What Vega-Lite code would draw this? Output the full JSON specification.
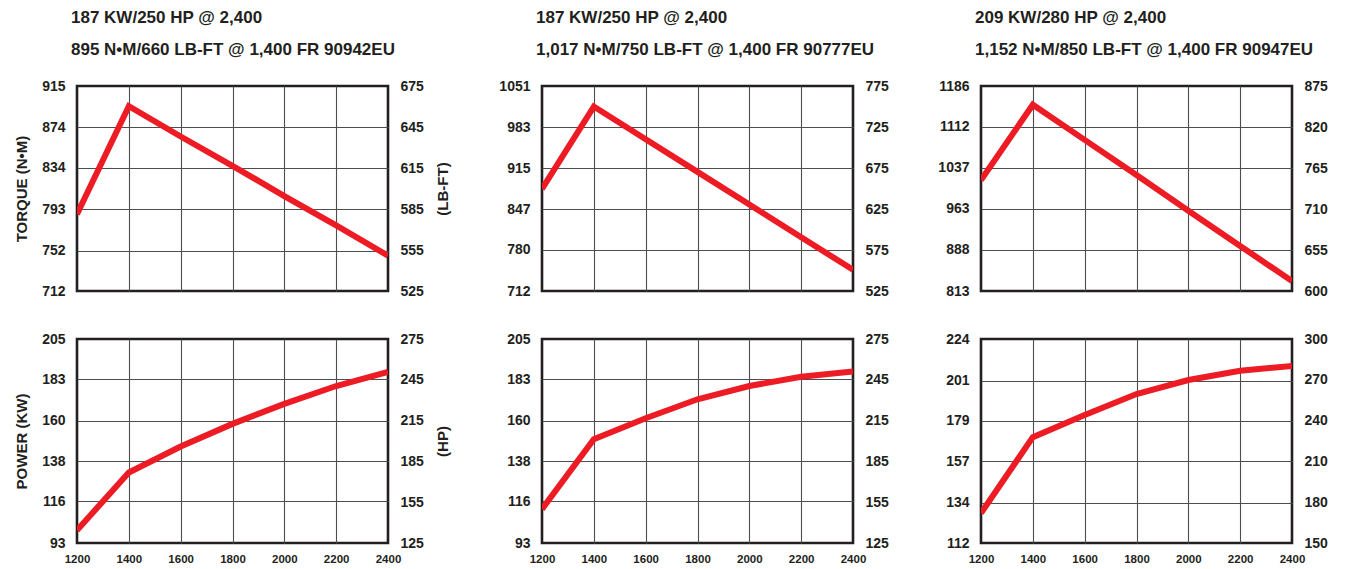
{
  "$schema": "https://vega.github.io/schema/vega-lite/v6.json",
  "background": "white",
  "padding": {"left": 13, "top": 7, "right": 5, "bottom": 2},
  "config": {
    "view": {"stroke": "#231f20", "strokeWidth": 2.6},
    "axis": {
      "ticks": false, "domain": false,
      "gridColor": "#4d4d4f", "gridWidth": 1.1,
      "labelFont": "Liberation Sans", "labelFontWeight": "bold", "labelColor": "#231f20",
      "labelFontSize": 14, "labelPadding": 12, "format": "d",
      "titleFont": "Liberation Sans", "titleFontSize": 15,
      "titleFontWeight": "bold", "titleColor": "#231f20", "titlePadding": 12
    },
    "axisX": {"labelFontSize": 11.5, "labelPadding": 10, "labelFlush": false, "labelOverlap": false},
    "title": {
      "font": "Liberation Sans", "fontSize": 17, "fontWeight": "bold",
      "color": "#231f20", "anchor": "start", "frame": "group", "lineHeight": 32, "dx": -6, "offset": 20
    }
  },
  "datasets": {
    "t1": [
      {"rpm": 1200, "nm": 788, "lbft": 581}, {"rpm": 1400, "nm": 895, "lbft": 660}, {"rpm": 1600, "nm": 865, "lbft": 638},
      {"rpm": 1800, "nm": 836, "lbft": 617}, {"rpm": 2000, "nm": 806, "lbft": 594}, {"rpm": 2200, "nm": 777, "lbft": 573},
      {"rpm": 2400, "nm": 747, "lbft": 551}
    ],
    "p1": [
      {"rpm": 1200, "kw": 100, "hp": 134}, {"rpm": 1400, "kw": 131.7, "hp": 176.6}, {"rpm": 1600, "kw": 146, "hp": 195.8},
      {"rpm": 1800, "kw": 158.4, "hp": 212.4}, {"rpm": 2000, "kw": 169.4, "hp": 227.2}, {"rpm": 2200, "kw": 179.2, "hp": 240.3},
      {"rpm": 2400, "kw": 187, "hp": 250.8}
    ],
    "t2": [
      {"rpm": 1200, "nm": 881, "lbft": 650}, {"rpm": 1400, "nm": 1017, "lbft": 750}, {"rpm": 1600, "nm": 963, "lbft": 710},
      {"rpm": 1800, "nm": 909, "lbft": 670}, {"rpm": 2000, "nm": 855, "lbft": 631}, {"rpm": 2200, "nm": 801, "lbft": 591},
      {"rpm": 2400, "nm": 747, "lbft": 551}
    ],
    "p2": [
      {"rpm": 1200, "kw": 111.6, "hp": 149.7}, {"rpm": 1400, "kw": 150, "hp": 201.2}, {"rpm": 1600, "kw": 161.5, "hp": 216.6},
      {"rpm": 1800, "kw": 171.9, "hp": 230.5}, {"rpm": 2000, "kw": 179.2, "hp": 240.3}, {"rpm": 2200, "kw": 184.3, "hp": 247.1},
      {"rpm": 2400, "kw": 187.1, "hp": 250.9}
    ],
    "t3": [
      {"rpm": 1200, "nm": 1015, "lbft": 749}, {"rpm": 1400, "nm": 1152, "lbft": 850}, {"rpm": 1600, "nm": 1088, "lbft": 802},
      {"rpm": 1800, "nm": 1024, "lbft": 755}, {"rpm": 2000, "nm": 959, "lbft": 707}, {"rpm": 2200, "nm": 895, "lbft": 660},
      {"rpm": 2400, "nm": 831, "lbft": 613}
    ],
    "p3": [
      {"rpm": 1200, "kw": 128.4, "hp": 172.2}, {"rpm": 1400, "kw": 170.1, "hp": 228.1}, {"rpm": 1600, "kw": 182.3, "hp": 244.5},
      {"rpm": 1800, "kw": 193.8, "hp": 259.9}, {"rpm": 2000, "kw": 201.5, "hp": 270.2}, {"rpm": 2200, "kw": 206.6, "hp": 277.1},
      {"rpm": 2400, "kw": 209.2, "hp": 280.5}
    ]
  },
  "spacing": 45,
  "hconcat": [
    {
      "vconcat": [
        {
          "width": 311, "height": 205,
          "title": {"text": ["187 KW/250 HP @ 2,400", "895 N•M/660 LB-FT @ 1,400  FR 90942EU"]},
          "data": {"name": "t1"},
          "resolve": {"scale": {"y": "independent"}},
          "layer": [
            {
              "mark": {"type": "line", "color": "#ed1c24", "strokeWidth": 6, "clip": true},
              "encoding": {
                "x": {"field": "rpm", "type": "quantitative", "scale": {"domain": [1200, 2400]},
                  "axis": {"values": [1200, 1400, 1600, 1800, 2000, 2200, 2400], "labels": false, "title": null,
                    "gridColor": {"condition": {"test": "datum.value <= 1200 || datum.value >= 2400", "value": "transparent"}, "value": "#4d4d4f"}}},
                "y": {"field": "nm", "type": "quantitative", "scale": {"domain": [712, 915]},
                  "axis": {"values": [712, 752, 793, 834, 874, 915], "title": "TORQUE (N•M)",
                    "gridColor": {"condition": {"test": "datum.value <= 712 || datum.value >= 915", "value": "transparent"}, "value": "#4d4d4f"}}}
              }
            },
            {
              "mark": {"type": "line", "opacity": 0},
              "encoding": {
                "x": {"field": "rpm", "type": "quantitative"},
                "y": {"field": "lbft", "type": "quantitative", "scale": {"domain": [525, 675]},
                  "axis": {"orient": "right", "values": [525, 555, 585, 615, 645, 675], "grid": false, "title": "(LB-FT)", "titleAngle": 270, "titleBaseline": "top"}}
              }
            }
          ]
        },
        {
          "width": 311, "height": 204,
          "data": {"name": "p1"},
          "resolve": {"scale": {"y": "independent"}},
          "layer": [
            {
              "mark": {"type": "line", "color": "#ed1c24", "strokeWidth": 6, "clip": true},
              "encoding": {
                "x": {"field": "rpm", "type": "quantitative", "scale": {"domain": [1200, 2400]},
                  "axis": {"values": [1200, 1400, 1600, 1800, 2000, 2200, 2400], "title": null,
                    "gridColor": {"condition": {"test": "datum.value <= 1200 || datum.value >= 2400", "value": "transparent"}, "value": "#4d4d4f"}}},
                "y": {"field": "kw", "type": "quantitative", "scale": {"domain": [93, 205]},
                  "axis": {"values": [93, 116, 138, 160, 183, 205], "title": "POWER (KW)",
                    "gridColor": {"condition": {"test": "datum.value <= 93 || datum.value >= 205", "value": "transparent"}, "value": "#4d4d4f"}}}
              }
            },
            {
              "mark": {"type": "line", "opacity": 0},
              "encoding": {
                "x": {"field": "rpm", "type": "quantitative"},
                "y": {"field": "hp", "type": "quantitative", "scale": {"domain": [125, 275]},
                  "axis": {"orient": "right", "values": [125, 155, 185, 215, 245, 275], "grid": false, "title": "(HP)", "titleAngle": 270, "titleBaseline": "top"}}
              }
            }
          ]
        }
      ],
      "spacing": 48,
      "bounds": "flush"
    },
    {
      "spacing": 46,
      "hconcat": [
        {
          "vconcat": [
            {
              "width": 311, "height": 205,
              "title": {"text": ["187 KW/250 HP @ 2,400", "1,017 N•M/750 LB-FT @ 1,400 FR 90777EU"]},
              "data": {"name": "t2"},
              "resolve": {"scale": {"y": "independent"}},
              "layer": [
                {
                  "mark": {"type": "line", "color": "#ed1c24", "strokeWidth": 6, "clip": true},
                  "encoding": {
                    "x": {"field": "rpm", "type": "quantitative", "scale": {"domain": [1200, 2400]},
                      "axis": {"values": [1200, 1400, 1600, 1800, 2000, 2200, 2400], "labels": false, "title": null,
                        "gridColor": {"condition": {"test": "datum.value <= 1200 || datum.value >= 2400", "value": "transparent"}, "value": "#4d4d4f"}}},
                    "y": {"field": "nm", "type": "quantitative", "scale": {"domain": [712, 1051]},
                      "axis": {"values": [712, 780, 847, 915, 983, 1051], "title": null,
                        "gridColor": {"condition": {"test": "datum.value <= 712 || datum.value >= 1051", "value": "transparent"}, "value": "#4d4d4f"}}}
                  }
                },
                {
                  "mark": {"type": "line", "opacity": 0},
                  "encoding": {
                    "x": {"field": "rpm", "type": "quantitative"},
                    "y": {"field": "lbft", "type": "quantitative", "scale": {"domain": [525, 775]},
                      "axis": {"orient": "right", "values": [525, 575, 625, 675, 725, 775], "grid": false, "title": null}}
                  }
                }
              ]
            },
            {
              "width": 311, "height": 204,
              "data": {"name": "p2"},
              "resolve": {"scale": {"y": "independent"}},
              "layer": [
                {
                  "mark": {"type": "line", "color": "#ed1c24", "strokeWidth": 6, "clip": true},
                  "encoding": {
                    "x": {"field": "rpm", "type": "quantitative", "scale": {"domain": [1200, 2400]},
                      "axis": {"values": [1200, 1400, 1600, 1800, 2000, 2200, 2400], "title": null,
                        "gridColor": {"condition": {"test": "datum.value <= 1200 || datum.value >= 2400", "value": "transparent"}, "value": "#4d4d4f"}}},
                    "y": {"field": "kw", "type": "quantitative", "scale": {"domain": [93, 205]},
                      "axis": {"values": [93, 116, 138, 160, 183, 205], "title": null,
                        "gridColor": {"condition": {"test": "datum.value <= 93 || datum.value >= 205", "value": "transparent"}, "value": "#4d4d4f"}}}
                  }
                },
                {
                  "mark": {"type": "line", "opacity": 0},
                  "encoding": {
                    "x": {"field": "rpm", "type": "quantitative"},
                    "y": {"field": "hp", "type": "quantitative", "scale": {"domain": [125, 275]},
                      "axis": {"orient": "right", "values": [125, 155, 185, 215, 245, 275], "grid": false, "title": null}}
                  }
                }
              ]
            }
          ],
          "spacing": 48,
          "bounds": "flush"
        },
        {
          "vconcat": [
            {
              "width": 311, "height": 205,
              "title": {"text": ["209 KW/280 HP @ 2,400", "1,152 N•M/850 LB-FT @ 1,400 FR 90947EU"]},
              "data": {"name": "t3"},
              "resolve": {"scale": {"y": "independent"}},
              "layer": [
                {
                  "mark": {"type": "line", "color": "#ed1c24", "strokeWidth": 6, "clip": true},
                  "encoding": {
                    "x": {"field": "rpm", "type": "quantitative", "scale": {"domain": [1200, 2400]},
                      "axis": {"values": [1200, 1400, 1600, 1800, 2000, 2200, 2400], "labels": false, "title": null,
                        "gridColor": {"condition": {"test": "datum.value <= 1200 || datum.value >= 2400", "value": "transparent"}, "value": "#4d4d4f"}}},
                    "y": {"field": "nm", "type": "quantitative", "scale": {"domain": [813, 1186]},
                      "axis": {"values": [813, 888, 963, 1037, 1112, 1186], "title": null,
                        "gridColor": {"condition": {"test": "datum.value <= 813 || datum.value >= 1186", "value": "transparent"}, "value": "#4d4d4f"}}}
                  }
                },
                {
                  "mark": {"type": "line", "opacity": 0},
                  "encoding": {
                    "x": {"field": "rpm", "type": "quantitative"},
                    "y": {"field": "lbft", "type": "quantitative", "scale": {"domain": [600, 875]},
                      "axis": {"orient": "right", "values": [600, 655, 710, 765, 820, 875], "grid": false, "title": null}}
                  }
                }
              ]
            },
            {
              "width": 311, "height": 204,
              "data": {"name": "p3"},
              "resolve": {"scale": {"y": "independent"}},
              "layer": [
                {
                  "mark": {"type": "line", "color": "#ed1c24", "strokeWidth": 6, "clip": true},
                  "encoding": {
                    "x": {"field": "rpm", "type": "quantitative", "scale": {"domain": [1200, 2400]},
                      "axis": {"values": [1200, 1400, 1600, 1800, 2000, 2200, 2400], "title": null,
                        "gridColor": {"condition": {"test": "datum.value <= 1200 || datum.value >= 2400", "value": "transparent"}, "value": "#4d4d4f"}}},
                    "y": {"field": "kw", "type": "quantitative", "scale": {"domain": [112, 224]},
                      "axis": {"values": [112, 134, 157, 179, 201, 224], "title": null,
                        "gridColor": {"condition": {"test": "datum.value <= 112 || datum.value >= 224", "value": "transparent"}, "value": "#4d4d4f"}}}
                  }
                },
                {
                  "mark": {"type": "line", "opacity": 0},
                  "encoding": {
                    "x": {"field": "rpm", "type": "quantitative"},
                    "y": {"field": "hp", "type": "quantitative", "scale": {"domain": [150, 300]},
                      "axis": {"orient": "right", "values": [150, 180, 210, 240, 270, 300], "grid": false, "title": null}}
                  }
                }
              ]
            }
          ],
          "spacing": 48,
          "bounds": "flush"
        }
      ]
    }
  ]
}
